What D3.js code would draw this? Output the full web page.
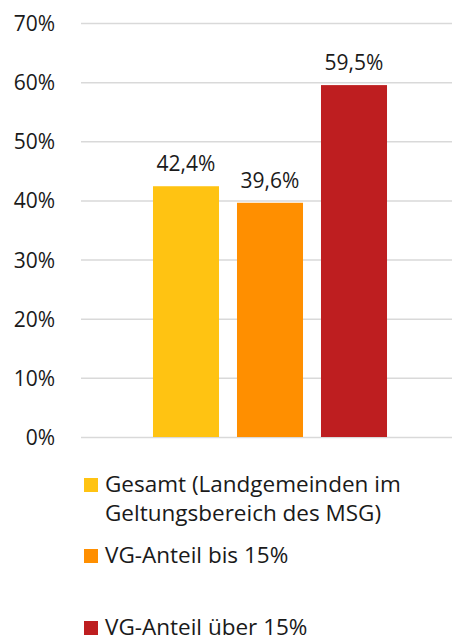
<!DOCTYPE html>
<html>
<head>
<meta charset="utf-8">
<script src="https://cdnjs.cloudflare.com/ajax/libs/d3/7.8.5/d3.min.js"></script>
<style>
  body { margin: 0; background: #fff; overflow: hidden; }
  text { font-family: "Open Sans", sans-serif; fill: #1a1a1a; }
</style>
</head>
<body>
<div class="chart"></div>
<script>
const series = ['Gesamt (Landgemeinden im Geltungsbereich des MSG)', 'VG-Anteil bis 15%', 'VG-Anteil über 15%'];
const values = [42.4, 39.6, 59.5];
const colors = ['#FFC312', '#FF8F00', '#BE1E20'];
const legendLines = [['Gesamt (Landgemeinden im', 'Geltungsbereich des MSG)'], ['VG-Anteil bis 15%'], ['VG-Anteil über 15%']];
const yTicks = [0, 10, 20, 30, 40, 50, 60, 70];

const W = 452, H = 637;
const margin = {top: 23, left: 81, right: -7, bottom: 200};
const height = 437 - margin.top;

const svg = d3.select('.chart')
    .append('svg')
    .attr('width', W)
    .attr('height', H)
    .style('display', 'block');

const g = svg.append('g')
    .attr('transform', 'translate(' + margin.left + ',' + margin.top + ')');

const width = W - margin.left - margin.right;

const yScale = d3.scaleLinear()
    .domain([0, 70])
    .range([height, 0]);

const groupScale = d3.scaleBand()
    .domain(['all'])
    .range([0, width])
    .padding(0.2);

const xScale = d3.scaleBand()
    .domain(series)
    .range([groupScale('all'), groupScale('all') + groupScale.bandwidth()])
    .paddingInner(0.214)
    .paddingOuter(0.107);

// gridlines
const yAxis = d3.axisLeft(yScale)
    .tickValues(yTicks)
    .tickSize(-width)
    .tickFormat(d => d + '%');

const axis = g.append('g')
    .attr('class', 'y-axis')
    .call(yAxis);
axis.select('.domain').remove();
axis.selectAll('.tick line')
    .attr('stroke', '#d9d9d9')
    .attr('stroke-width', 1.5);
axis.selectAll('.tick text')
    .attr('x', -26)
    .attr('dy', '0.36em')
    .style('font-size', '21px')
    .style('font-family', '"Open Sans", sans-serif')
    .attr('fill', '#1a1a1a');

g.selectAll('rect.bar')
    .data(series)
    .enter()
    .append('rect')
    .attr('class', 'bar')
    .attr('x', d => xScale(d))
    .attr('y', (d, i) => yScale(values[i]))
    .attr('width', xScale.bandwidth())
    .attr('height', (d, i) => height - yScale(values[i]))
    .attr('fill', (d, i) => colors[i]);

g.selectAll('text.val')
    .data(series)
    .enter()
    .append('text')
    .attr('class', 'val')
    .attr('x', d => xScale(d) + xScale.bandwidth() / 2)
    .attr('y', (d, i) => yScale(values[i]) - 15)
    .attr('text-anchor', 'middle')
    .style('font-size', '21px')
    .text((d, i) => values[i].toFixed(1).replace('.', ',') + '%');

// legend
const legendY = [478, 549, 621];
const legend = svg.append('g');
legendLines.forEach((lines, i) => {
    legend.append('rect')
        .attr('x', 84)
        .attr('y', legendY[i])
        .attr('width', 14)
        .attr('height', 14)
        .attr('fill', colors[i]);
    lines.forEach((t, j) => {
        legend.append('text')
            .attr('x', 105)
            .attr('y', legendY[i] + 14 + j * 29)
            .style('font-size', '22.5px')
            .text(t);
    });
});
</script>
</body>
</html>
